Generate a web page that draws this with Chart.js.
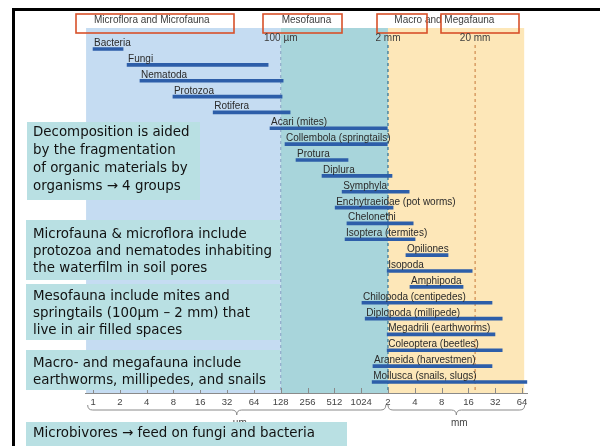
<!DOCTYPE html>
<html>
<head>
<meta charset="utf-8">
<script src="https://cdn.jsdelivr.net/npm/chart.js@4.4.1/dist/chart.umd.min.js"></script>
<style>
  body { margin: 0; background: #fff; }
  #wrap { position: relative; width: 600px; height: 446px; overflow: hidden; }
  #frame { position: absolute; left: 12px; top: 8px; right: -4px; bottom: -4px;
           border-top: 3px solid #000; border-left: 3px solid #000; pointer-events: none; }
</style>
</head>
<body>
<div id="wrap">
  <canvas id="soilChart" width="600" height="446"></canvas>
  <div id="frame"></div>
</div>
<script>
// body width ranges in log2(µm) units (0 = 1 µm, 16 = 64 mm)
const taxa = [
  "Bacteria", "Fungi", "Nematoda", "Protozoa", "Rotifera", "Acari (mites)",
  "Collembola (springtails)", "Protura", "Diplura", "Symphyla",
  "Enchytraeidae (pot worms)", "Chelonethi", "Isoptera (termites)", "Opiliones",
  "Isopoda", "Amphipoda", "Chilopoda (centipedes)", "Diplopoda (millipede)",
  "Megadrili (earthworms)", "Coleoptera (beetles)", "Araneida (harvestmen)",
  "Mollusca (snails, slugs)"
];
const sizeFrom = [0.0, 1.27, 1.75, 2.98, 4.48, 6.6, 7.16, 7.57, 8.54, 9.29, 9.03,
  9.47, 9.4, 11.67, 10.97, 11.82, 10.03, 10.15, 10.97, 10.97, 10.44, 10.41];
const sizeTo = [1.12, 6.53, 7.09, 7.05, 7.35, 10.97, 10.97, 9.51, 11.15, 11.79, 11.19,
  11.94, 12.01, 13.24, 14.14, 13.8, 14.88, 15.26, 14.99, 15.26, 14.88, 16.19];

const tickValues = [0, 1, 2, 3, 4, 5, 6, 7, 8, 9, 10, 11, 12, 13, 14, 15, 16];
const tickLabels = ["1", "2", "4", "8", "16", "32", "64", "128", "256", "512", "1024",
  "2", "4", "8", "16", "32", "64"];

const zoneNames = ["Microflora and Microfauna", "Mesofauna", "Macro and Megafauna"];
const zoneFrom = [-0.26, 7.0, 11.0];
const zoneTo = [7.0, 11.0, 16.08];
const zoneHeaderAt = [0.0, 7.0, 11.2];
const zoneColors = ["#c5dcf2", "#a8d5db", "#fde7b8"];

const markerValues = [7.0, 11.0, 14.25];
const markerLabels = ["100 µm", "2 mm", "20 mm"];
const markerColors = ["#8fa9c9", "#2f6d93", "#cf8b4f"];

const unitNames = ["µm", "mm"];
const unitFrom = [-0.2, 11.0];
const unitTo = [10.92, 16.1];

const noteDecomp = ["Decomposition is aided", "by the fragmentation",
  "of organic materials by", "organisms \u2192 4 groups"];
const noteMicro = ["Microfauna & microflora include",
  "protozoa and nematodes inhabiting", "the waterfilm in soil pores"];
const noteMeso = ["Mesofauna include mites and",
  "springtails (100\u00b5m \u2013 2 mm) that", "live in air filled spaces"];
const noteMacro = ["Macro- and megafauna include",
  "earthworms, millipedes, and snails"];
const noteMicrobivores = ["Microbivores \u2192 feed on fungi and bacteria"];

const labelFont = '10px "Liberation Sans", Arial, sans-serif';
const noteFont = '13.4px "DejaVu Sans", sans-serif';

const decor = {
  id: "decor",
  beforeDatasetsDraw(chart) {
    const ctx = chart.ctx;
    const xs = chart.scales.x;
    const area = chart.chartArea;
    ctx.save();
    // zone bands
    zoneNames.forEach((z, i) => {
      const a = xs.getPixelForValue(zoneFrom[i]);
      const b = xs.getPixelForValue(zoneTo[i]);
      ctx.fillStyle = zoneColors[i];
      ctx.fillRect(a, area.top, b - a, area.bottom - area.top);
    });
    // headers
    ctx.font = labelFont;
    ctx.fillStyle = "#3c3c3c";
    ctx.textBaseline = "middle";
    zoneNames.forEach((z, i) => {
      ctx.fillText(z, xs.getPixelForValue(zoneHeaderAt[i]) + 1, 20);
    });
    // red highlight boxes around headers
    ctx.strokeStyle = "#d8512a";
    ctx.lineWidth = 1.6;
    [[76, 14, 158, 19], [263, 14, 79, 19], [377, 14, 50, 19], [441, 14, 78, 19]]
      .forEach(r => ctx.strokeRect(r[0], r[1], r[2], r[3]));
    // size markers
    ctx.textAlign = "center";
    markerValues.forEach((v, i) => {
      const x = xs.getPixelForValue(v);
      ctx.fillStyle = "#3c3c3c";
      ctx.fillText(markerLabels[i], x, 38);
      ctx.strokeStyle = markerColors[i];
      ctx.lineWidth = 1.2;
      ctx.setLineDash([3, 3]);
      ctx.beginPath();
      ctx.moveTo(x, 45);
      ctx.lineTo(x, area.bottom);
      ctx.stroke();
    });
    ctx.restore();
  },
  afterDatasetsDraw(chart) {
    const ctx = chart.ctx;
    const xs = chart.scales.x;
    const ys = chart.scales.y;
    const area = chart.chartArea;
    ctx.save();
    // taxon names above their bars
    ctx.font = labelFont;
    ctx.fillStyle = "#2a2a2a";
    ctx.textBaseline = "alphabetic";
    taxa.forEach((t, i) => {
      ctx.fillText(t, xs.getPixelForValue(sizeFrom[i]) + 1, ys.getPixelForValue(i) - 3);
    });
    // inward tick marks
    ctx.strokeStyle = "#8a8a8a";
    ctx.lineWidth = 1;
    xs.ticks.forEach((t, i) => {
      const x = Math.round(xs.getPixelForTick(i)) + 0.5;
      ctx.beginPath();
      ctx.moveTo(x, area.bottom - 5);
      ctx.lineTo(x, area.bottom);
      ctx.stroke();
    });
    // braces with unit names
    const y0 = area.bottom + 12;
    unitNames.forEach((u, i) => {
      const x1 = xs.getPixelForValue(unitFrom[i]);
      const x2 = xs.getPixelForValue(unitTo[i]);
      const xm = (x1 + x2) / 2;
      ctx.strokeStyle = "#8a8a8a";
      ctx.beginPath();
      ctx.moveTo(x1, y0);
      ctx.quadraticCurveTo(x1, y0 + 5, x1 + 5, y0 + 5);
      ctx.lineTo(xm - 5, y0 + 5);
      ctx.quadraticCurveTo(xm, y0 + 5, xm, y0 + 10);
      ctx.quadraticCurveTo(xm, y0 + 5, xm + 5, y0 + 5);
      ctx.lineTo(x2 - 5, y0 + 5);
      ctx.quadraticCurveTo(x2, y0 + 5, x2, y0);
      ctx.stroke();
      ctx.fillStyle = "#444";
      ctx.textAlign = "center";
      ctx.textBaseline = "middle";
      ctx.fillText(u, xm + 3, y0 + 18);
    });
    ctx.restore();
  },
  afterDraw(chart) {
    const ctx = chart.ctx;
    ctx.save();
    const notes = [
      [noteDecomp, 27, 122, 173, 78, 133, 18],
      [noteMicro, 26, 220, 254, 60, 235, 16.6],
      [noteMeso, 26, 284, 254, 56, 297, 16.6],
      [noteMacro, 26, 350, 254, 40, 364, 17],
      [noteMicrobivores, 26, 422, 321, 24, 434, 17]
    ];
    ctx.font = noteFont;
    ctx.textBaseline = "middle";
    notes.forEach(n => {
      ctx.fillStyle = "#b9e0e3";
      ctx.fillRect(n[1], n[2], n[3], n[4]);
      ctx.fillStyle = "#111";
      n[0].forEach((line, k) => ctx.fillText(line, 33, n[5] + k * n[6]));
    });
    ctx.restore();
  }
};

new Chart(document.getElementById("soilChart"), {
  type: "bar",
  data: {
    datasets: [{
      data: taxa.map((t, i) => ({ y: i, x: [sizeFrom[i], sizeTo[i]] })),
      backgroundColor: "#2d5ea9",
      barThickness: 3,
      borderWidth: 0
    }]
  },
  options: {
    indexAxis: "y",
    responsive: false,
    animation: false,
    layout: { padding: { left: 85, right: 72.6, top: 28, bottom: 0 } },
    plugins: { legend: { display: false }, tooltip: { enabled: false } },
    scales: {
      x: {
        type: "linear",
        min: -0.3,
        max: 16.2,
        grid: { display: false, drawTicks: false },
        border: { display: true, color: "#8a8a8a", width: 1 },
        afterBuildTicks: s => { s.ticks = tickValues.map(v => ({ value: v })); },
        afterFit: s => { s.height = 53; },
        ticks: {
          autoSkip: false,
          maxRotation: 0,
          padding: 4,
          color: "#444",
          font: { family: '"Liberation Sans", Arial, sans-serif', size: 9.5 },
          callback: v => tickLabels[tickValues.indexOf(v)]
        }
      },
      y: {
        type: "linear",
        reverse: true,
        offset: false,
        min: -1.324,
        max: 21.694,
        display: false
      }
    }
  },
  plugins: [decor]
});
</script>
</body>
</html>
